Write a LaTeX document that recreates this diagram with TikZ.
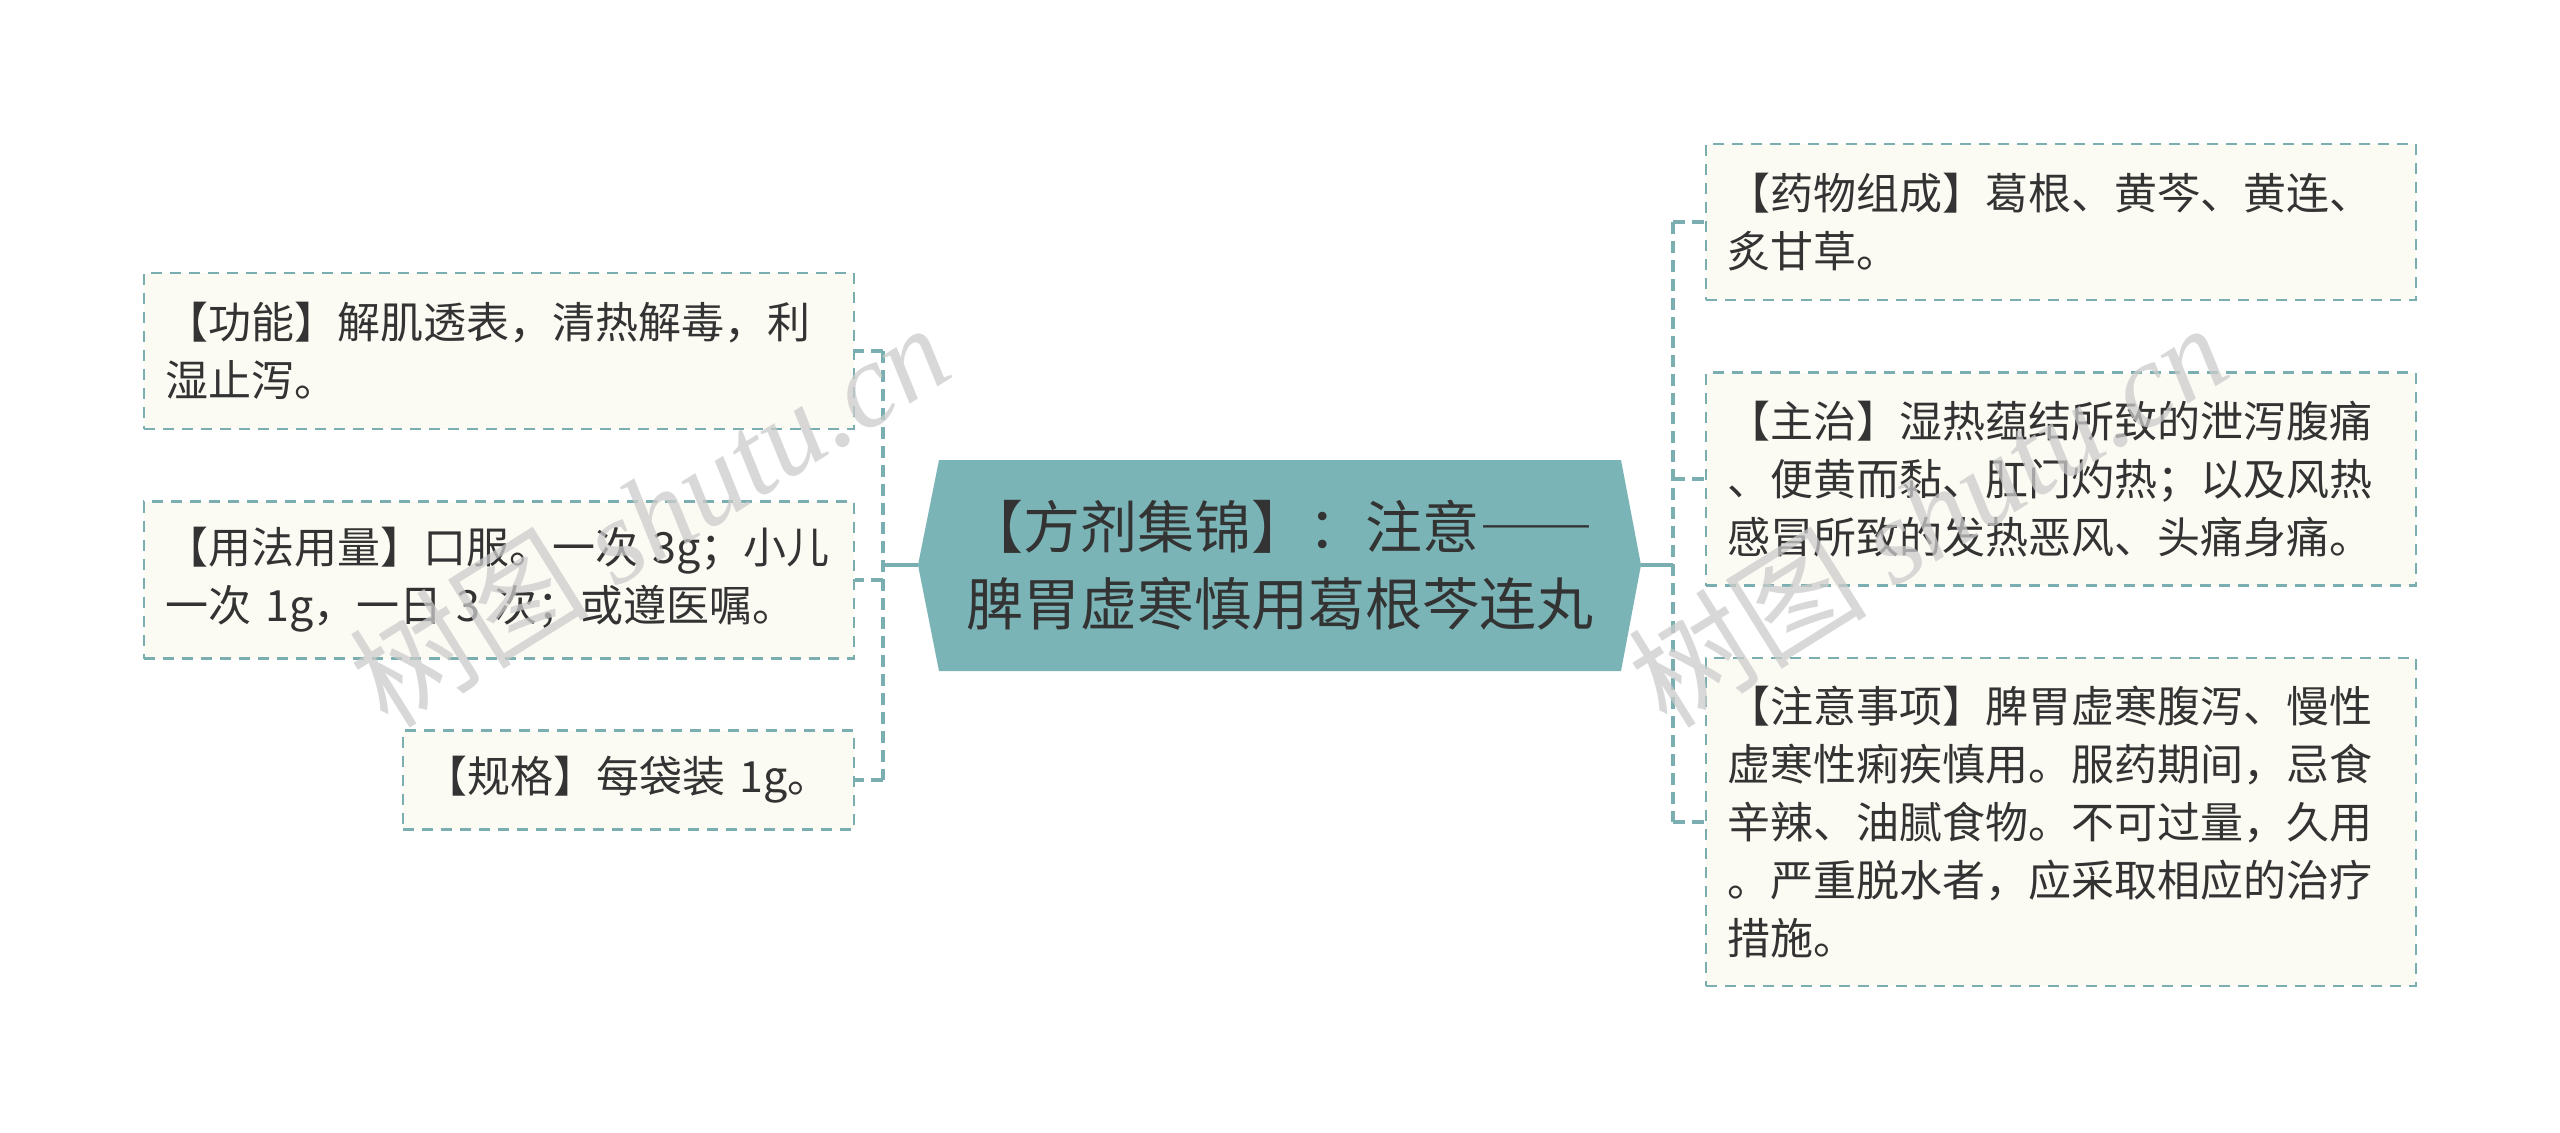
\documentclass[tikz,border=0pt]{standalone}
\usepackage{fontspec}
\setmainfont{Noto Sans CJK SC}
\newfontfamily\fwfont[RawFeature=+fwid]{Noto Sans CJK SC}
\newfontfamily\wmserif{Liberation Serif}
\definecolor{tealfill}{HTML}{7BB4B6}
\definecolor{dashc}{HTML}{7AAEB0}
\definecolor{creamfill}{HTML}{FCFBF3}
\definecolor{txtc}{HTML}{333333}
\begin{document}
\begin{tikzpicture}[x=0.5pt,y=-0.5pt,
  leaf/.style={draw=dashc, fill=creamfill, line width=1.25pt, dash pattern=on 5.5pt off 4pt,
    inner xsep=10.5pt, inner ysep=0pt, align=left, text=txtc, anchor=center,
    font=\fontsize{21.5pt}{29pt}\selectfont},
  conndash/.style={draw=dashc, line width=1.6pt, dash pattern=on 6pt off 3.5pt},
  connsolid/.style={draw=dashc, line width=1.6pt},
  wmark/.style={text=black!20, opacity=0.75, rotate=32, inner sep=0pt}
]
\useasboundingbox[fill=white] (0,0) rectangle (2560,1132);

% central node
\fill[tealfill] (918,565) -- (939,460) -- (1621,460) -- (1641,565) -- (1621,671) -- (939,671) -- cycle;
\node[align=center, text=txtc, font=\fontsize{28.5pt}{38.5pt}\selectfont] (center) at (1280,565)
  {【方剂集锦】：注意{\fwfont ——}\\脾胃虚寒慎用葛根芩连丸};
\coordinate (cL) at (918,565);
\coordinate (cR) at (1641,565);
\coordinate (jL) at (883,565);
\coordinate (jR) at (1673,565);

% left leaves
\node[leaf, text width=334pt, minimum height=78pt] (L1) at (499,351)
  {【功能】解肌透表，清热解毒，利\\湿止泻。};
\node[leaf, text width=334pt, minimum height=78.5pt] (L2) at (499,580)
  {【用法用量】口服。一次 3g；小儿\\一次 1g，一日 3 次；或遵医嘱。};
\node[leaf, text width=204.5pt, minimum height=49.5pt] (L3) at (628.5,780)
  {【规格】每袋装 1g。};

% right leaves
\node[leaf, text width=334pt, minimum height=78pt] (R1) at (2061,222)
  {【药物组成】葛根、黄芩、黄连、\\炙甘草。};
\node[leaf, text width=334pt, minimum height=106.5pt] (R2) at (2061,479)
  {【主治】湿热蕴结所致的泄泻腹痛\\、便黄而黏、肛门灼热；以及风热\\感冒所致的发热恶风、头痛身痛。};
\node[leaf, text width=334pt, minimum height=164pt] (R3) at (2061,822)
  {【注意事项】脾胃虚寒腹泻、慢性\\虚寒性痢疾慎用。服药期间，忌食\\辛辣、油腻食物。不可过量，久用\\。严重脱水者，应采取相应的治疗\\措施。};

% connectors
\draw[connsolid] (cL) -- (jL);
\draw[conndash] (jL |- L1.east) -- (jL |- L3.east);
\draw[conndash] (jL |- L1.east) -- (L1.east);
\draw[conndash] (jL |- L2.east) -- (L2.east);
\draw[conndash] (jL |- L3.east) -- (L3.east);

\draw[connsolid] (cR) -- (jR);
\draw[conndash] (jR |- R1.west) -- (jR |- R3.west);
\draw[conndash] (jR |- R1.west) -- (R1.west);
\draw[conndash] (jR |- R2.west) -- (R2.west);
\draw[conndash] (jR |- R3.west) -- (R3.west);

% watermarks
\node[wmark, font=\fontsize{60pt}{60pt}\selectfont] (wm1) at (649,514) {树图 {\wmserif\itshape shutu.cn}};
\node[wmark, font=\fontsize{60pt}{60pt}\selectfont] (wm2) at (1927,514) {树图 {\wmserif\itshape shutu.cn}};
\end{tikzpicture}
\end{document}
